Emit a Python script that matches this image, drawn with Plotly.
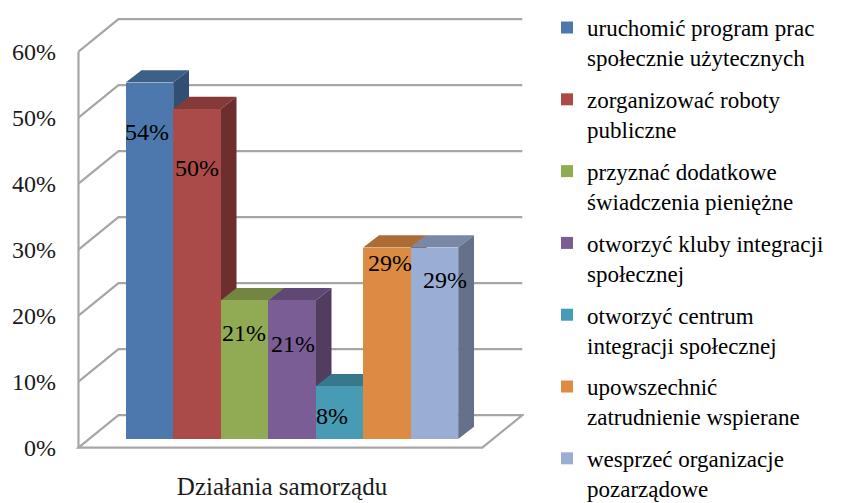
import plotly.graph_objects as go

categories = ["uruchomić program prac<br>społecznie użytecznych",
              "zorganizować roboty<br>publiczne",
              "przyznać dodatkowe<br>świadczenia pieniężne",
              "otworzyć kluby integracji<br>społecznej",
              "otworzyć centrum<br>integracji społecznej",
              "upowszechnić<br>zatrudnienie wspierane",
              "wesprzeć organizacje<br>pozarządowe"]
values = [54, 50, 21, 21, 8, 29, 29]
tick_values = [0, 10, 20, 30, 40, 50, 60]
tick_labels = ["0%", "10%", "20%", "30%", "40%", "50%", "60%"]
front_colors = ["#4C78AE", "#AB4B49", "#91AB55", "#795D94", "#479BB4", "#DD8A42", "#9AADD5"]
top_colors = ["#3C6087", "#853A38", "#728642", "#5F4974", "#37788C", "#AC6C33", "#7888A6"]
side_colors = ["#304F73", "#6E2E2D", "#5F6F37", "#503D60", "#2E6475", "#8F5A2A", "#65718B"]
label_dx = [-2, 0, 0, 1, -7, 3, 11]
label_dy = [49, 59, 33, 44, 30, 15, 32]

FONT = "Liberation Serif"
GRID = "#A6A6A6"
BASE = 1.32
BAR_DX, BAR_DY = 15.8 / 47.5, 12.3 / 6.6
WALL_DX, WALL_DY = 40 / 47.5, 32.5 / 6.6
LEFT, RIGHT = -0.994, 7.507

shapes = []
def poly(pts, fill=None, line=None, width=0):
    path = "M" + "L".join(f"{x},{y}" for x, y in pts) + "Z"
    shapes.append(dict(type="path", path=path, xref="x", yref="y", layer="below",
                       fillcolor=fill or "rgba(0,0,0,0)",
                       line=dict(color=line or "rgba(0,0,0,0)", width=width)))
def open_line(pts):
    path = "M" + "L".join(f"{x},{y}" for x, y in pts)
    shapes.append(dict(type="path", path=path, xref="x", yref="y", layer="below",
                       line=dict(color=GRID, width=2.2)))

for t in tick_values[1:]:
    open_line([(LEFT, t), (LEFT + WALL_DX, t + WALL_DY), (RIGHT + WALL_DX, t + WALL_DY)])
open_line([(LEFT, 0), (LEFT, tick_values[-1])])
poly([(LEFT, 0), (LEFT + WALL_DX, WALL_DY), (RIGHT + WALL_DX, WALL_DY), (RIGHT, 0)], line=GRID, width=2.2)

fig = go.Figure()
annotations = []
for i, v in enumerate(values):
    top = BASE + v
    poly([(i, top), (i + BAR_DX, top + BAR_DY), (i + 1 + BAR_DX, top + BAR_DY), (i + 1, top)], fill=top_colors[i])
    poly([(i + 1, BASE), (i + 1 + BAR_DX, BASE + BAR_DY), (i + 1 + BAR_DX, top + BAR_DY), (i + 1, top)], fill=side_colors[i])
    fig.add_trace(go.Bar(x=[i + 0.5], y=[v], base=[BASE], width=[1], name=categories[i],
                         legendgroup=str(i), marker=dict(color=front_colors[i], line=dict(width=0)),
                         hoverinfo="name+y"))
    annotations.append(dict(x=i + 0.5, y=top, xref="x", yref="y", text=f"{v}%", showarrow=False,
                            xshift=label_dx[i], yshift=-label_dy[i], yanchor="middle",
                            font=dict(family=FONT, size=24, color="#000000")))

fig.update_layout(
    width=834, height=503, barmode="overlay", paper_bgcolor="white", plot_bgcolor="white",
    margin=dict(l=32, r=318, t=4, b=56, autoexpand=False),
    font=dict(family=FONT, size=24, color="#1a1a1a"),
    shapes=shapes, annotations=annotations,
    xaxis=dict(range=[-1.804, 8.385], showticklabels=False, showgrid=False, zeroline=False,
               showline=False, ticks="", title=dict(text="Działania samorządu", standoff=22,
               font=dict(family=FONT, size=25))),
    yaxis=dict(range=[-1.106, 66.01], tickvals=tick_values, ticktext=tick_labels, showgrid=False,
               zeroline=False, showline=False, ticks="", tickfont=dict(family=FONT, size=24),
               anchor="free", position=0, shift=16, ticklabelstandoff=0),
    legend=dict(x=1.0475, y=1.0134, xanchor="left", yanchor="top", tracegroupgap=9, maxheight=600,
                valign="top",
                font=dict(family=FONT, size=23, color="#000000"), bgcolor="rgba(0,0,0,0)",
                traceorder="grouped", itemclick=False, itemdoubleclick=False),
    showlegend=True, bargap=0,
)
fig.write_html("out.html")
